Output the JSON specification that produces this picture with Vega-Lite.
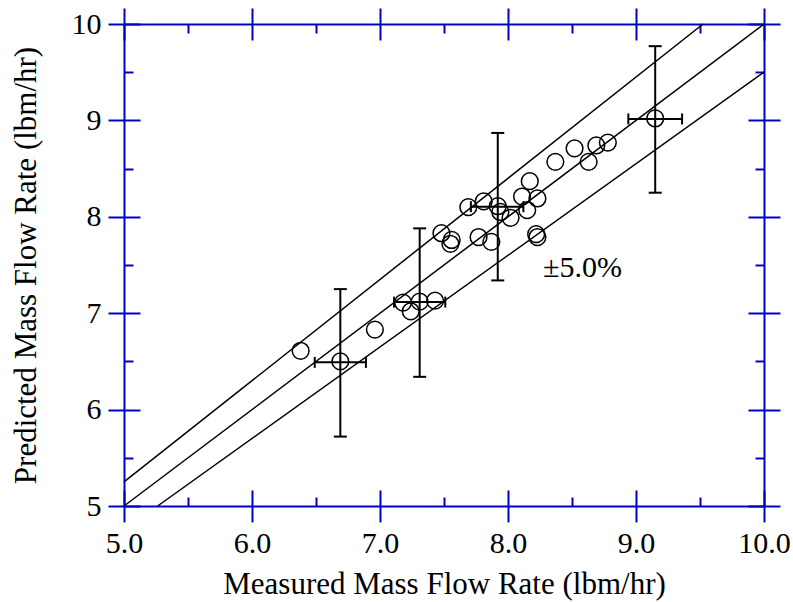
{
  "$schema": "https://vega.github.io/schema/vega-lite/v6.json",
  "width": 640,
  "height": 482,
  "autosize": {"type": "none"},
  "padding": {"left": 124, "top": 24, "right": 29, "bottom": 96},
  "background": "white",
  "config": {
    "view": {"stroke": null},
    "font": "Liberation Serif",
    "axis": {
      "grid": false,
      "domainColor": "#0000cc",
      "domainWidth": 2,
      "tickColor": "#0000cc",
      "tickWidth": 2,
      "labelFont": "Liberation Serif",
      "labelFontSize": 30,
      "labelColor": "black",
      "labelFlush": false,
      "labelOverlap": false,
      "titleFont": "Liberation Serif",
      "titleFontSize": 31,
      "titleFontWeight": "normal",
      "titleColor": "black"
    }
  },
  "datasets": {
    "lines": [
      {"line": "upper", "x": 5, "y": 5.25},
      {"line": "upper", "x": 9.524, "y": 10},
      {"line": "mid", "x": 5, "y": 5},
      {"line": "mid", "x": 10, "y": 10},
      {"line": "lower", "x": 5.263, "y": 5},
      {"line": "lower", "x": 10, "y": 9.5}
    ],
    "err": [
      {"x": 6.69, "y": 6.49, "xlo": 6.49, "xhi": 6.89, "ylo": 5.72, "yhi": 7.25},
      {"x": 7.31, "y": 7.115, "xlo": 7.11, "xhi": 7.51, "ylo": 6.34, "yhi": 7.88},
      {"x": 7.92, "y": 8.105, "xlo": 7.71, "xhi": 8.12, "ylo": 7.34, "yhi": 8.87},
      {"x": 9.15, "y": 9.015, "xlo": 8.94, "xhi": 9.36, "ylo": 8.25, "yhi": 9.77}
    ],
    "pts": [
      {"x": 6.38, "y": 6.61}, {"x": 6.69, "y": 6.5}, {"x": 6.96, "y": 6.83},
      {"x": 7.18, "y": 7.11}, {"x": 7.24, "y": 7.02}, {"x": 7.31, "y": 7.12},
      {"x": 7.43, "y": 7.13}, {"x": 7.48, "y": 7.83}, {"x": 7.55, "y": 7.72},
      {"x": 7.56, "y": 7.76}, {"x": 7.69, "y": 8.1}, {"x": 7.77, "y": 7.79},
      {"x": 7.81, "y": 8.16}, {"x": 7.87, "y": 7.74}, {"x": 7.92, "y": 8.11},
      {"x": 7.94, "y": 8.05}, {"x": 8.02, "y": 7.99}, {"x": 8.11, "y": 8.21},
      {"x": 8.15, "y": 8.07}, {"x": 8.17, "y": 8.37}, {"x": 8.23, "y": 8.19},
      {"x": 8.22, "y": 7.82}, {"x": 8.23, "y": 7.79}, {"x": 8.37, "y": 8.57},
      {"x": 8.52, "y": 8.71}, {"x": 8.63, "y": 8.57}, {"x": 8.69, "y": 8.74},
      {"x": 8.78, "y": 8.77}, {"x": 9.15, "y": 9.02}
    ],
    "note": [{"label": "±5.0%", "x": 8.273, "y": 7.375}]
  },
  "resolve": {"axis": {"x": "independent", "y": "independent"}},
  "layer": [
    {
      "data": {"name": "lines"},
      "mark": {"type": "line", "color": "black", "strokeWidth": 1.5},
      "encoding": {
        "x": {"field": "x", "type": "quantitative",
              "scale": {"domain": [5, 10], "nice": false, "zero": false},
              "axis": {"orient": "bottom", "values": [5, 6, 7, 8, 9, 10], "format": ".1f",
                       "tickSize": 16, "labelPadding": 6,
                       "title": "Measured Mass Flow Rate (lbm/hr)", "titleX": 320, "titleY": 87,
                       "titleBaseline": "alphabetic", "titleAnchor": "middle", "titleAlign": "center"}},
        "y": {"field": "y", "type": "quantitative",
              "scale": {"domain": [5, 10], "nice": false, "zero": false},
              "axis": {"orient": "left", "values": [5, 6, 7, 8, 9, 10], "format": "d",
                       "tickSize": 16, "labelPadding": 7,
                       "title": "Predicted Mass Flow Rate (lbm/hr)", "titleX": -89, "titleY": 241,
                       "titleBaseline": "alphabetic", "titleAngle": -90, "titleAlign": "center"}},
        "detail": {"field": "line", "type": "nominal"}
      }
    },
    {
      "data": {"name": "err"},
      "mark": {"type": "rule", "color": "black", "strokeWidth": 2},
      "encoding": {
        "x": {"field": "x", "type": "quantitative",
              "axis": {"orient": "bottom", "values": [5, 6, 7, 8, 9, 10], "tickSize": -16,
                       "labels": false, "domain": false, "title": null}},
        "y": {"field": "ylo", "type": "quantitative",
              "axis": {"orient": "left", "values": [5, 6, 7, 8, 9, 10], "tickSize": -16,
                       "labels": false, "domain": false, "title": null}},
        "y2": {"field": "yhi"}
      }
    },
    {
      "data": {"name": "err"},
      "mark": {"type": "rule", "color": "black", "strokeWidth": 2},
      "encoding": {
        "x": {"field": "xlo", "type": "quantitative",
              "axis": {"orient": "bottom", "values": [5.5, 6.5, 7.5, 8.5, 9.5], "tickSize": -9,
                       "labels": false, "domain": false, "title": null}},
        "x2": {"field": "xhi"},
        "y": {"field": "y", "type": "quantitative",
              "axis": {"orient": "left", "values": [5.5, 6.5, 7.5, 8.5, 9.5], "tickSize": -9,
                       "labels": false, "domain": false, "title": null}}
      }
    },
    {
      "data": {"name": "err"},
      "mark": {"type": "tick", "orient": "horizontal", "color": "black", "size": 13, "thickness": 2, "opacity": 1},
      "encoding": {
        "x": {"field": "x", "type": "quantitative",
              "axis": {"orient": "top", "values": [5, 6, 7, 8, 9, 10], "tickSize": 16,
                       "labels": false, "domain": true, "title": null}},
        "y": {"field": "ylo", "type": "quantitative",
              "axis": {"orient": "right", "values": [5, 6, 7, 8, 9, 10], "tickSize": 16,
                       "labels": false, "domain": true, "title": null}}
      }
    },
    {
      "data": {"name": "err"},
      "mark": {"type": "tick", "orient": "horizontal", "color": "black", "size": 13, "thickness": 2, "opacity": 1},
      "encoding": {
        "x": {"field": "x", "type": "quantitative",
              "axis": {"orient": "top", "values": [5, 6, 7, 8, 9, 10], "tickSize": -16,
                       "labels": false, "domain": false, "title": null}},
        "y": {"field": "yhi", "type": "quantitative",
              "axis": {"orient": "right", "values": [5, 6, 7, 8, 9, 10], "tickSize": -16,
                       "labels": false, "domain": false, "title": null}}
      }
    },
    {
      "data": {"name": "err"},
      "mark": {"type": "tick", "orient": "vertical", "color": "black", "size": 11, "thickness": 2, "opacity": 1},
      "encoding": {
        "x": {"field": "xlo", "type": "quantitative",
              "axis": {"orient": "top", "values": [5.5, 6.5, 7.5, 8.5, 9.5], "tickSize": -9,
                       "labels": false, "domain": false, "title": null}},
        "y": {"field": "y", "type": "quantitative",
              "axis": {"orient": "right", "values": [5.5, 6.5, 7.5, 8.5, 9.5], "tickSize": -9,
                       "labels": false, "domain": false, "title": null}}
      }
    },
    {
      "data": {"name": "err"},
      "mark": {"type": "tick", "orient": "vertical", "color": "black", "size": 11, "thickness": 2, "opacity": 1},
      "encoding": {
        "x": {"field": "xhi", "type": "quantitative", "axis": null},
        "y": {"field": "y", "type": "quantitative", "axis": null}
      }
    },
    {
      "data": {"name": "pts"},
      "mark": {"type": "point", "shape": "circle", "filled": false, "color": "black", "strokeWidth": 1.5, "size": 280, "opacity": 1},
      "encoding": {
        "x": {"field": "x", "type": "quantitative", "axis": null},
        "y": {"field": "y", "type": "quantitative", "axis": null}
      }
    },
    {
      "data": {"name": "note"},
      "mark": {"type": "text", "align": "left", "baseline": "alphabetic", "font": "Liberation Serif", "fontSize": 30, "color": "black"},
      "encoding": {
        "x": {"field": "x", "type": "quantitative", "axis": null},
        "y": {"field": "y", "type": "quantitative", "axis": null},
        "text": {"field": "label"}
      }
    }
  ]
}
